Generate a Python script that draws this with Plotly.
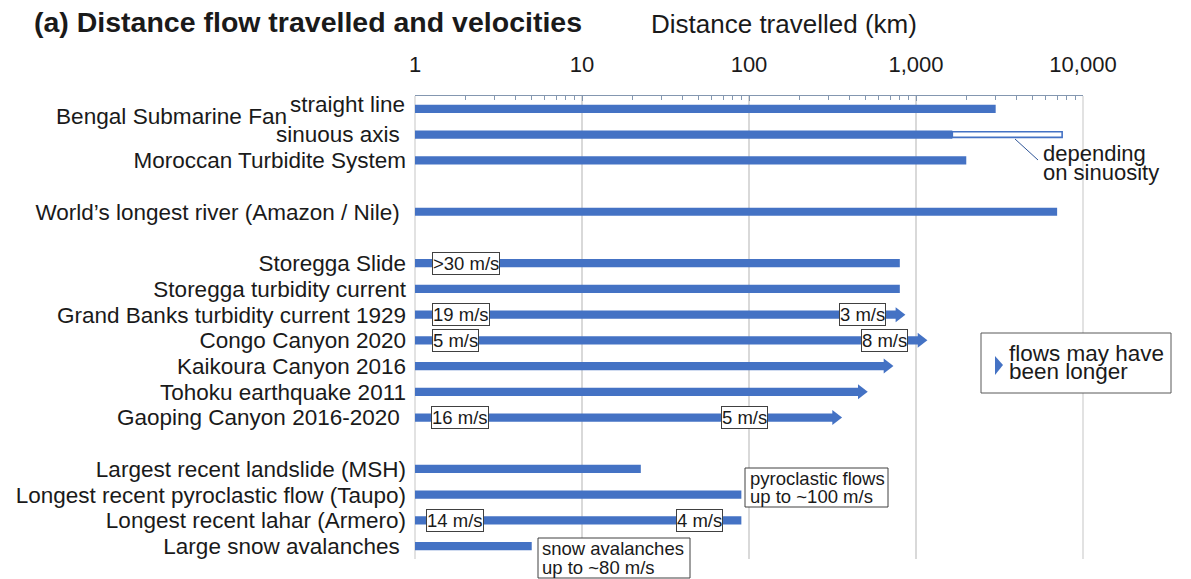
import numpy as np
import plotly.graph_objects as go

FONT = "Arial, 'Liberation Sans', Helvetica, sans-serif"
BLUE = "#4472C4"
AXIS = "#8497B0"
GRID = "#D9D9D9"
INK = "#1A1A1A"

W, H = 1191, 579
ML, MR, MT, MB = 415, 108, 96, 20

# ---- data -------------------------------------------------------------
row_labels = [
    "",  # "straight line" is drawn separately, slightly raised
    "sinuous axis\u00a0",
    "Moroccan Turbidite System",
    "World’s longest river (Amazon / Nile)\u00a0",
    "Storegga Slide",
    "Storegga turbidity current",
    "Grand Banks turbidity current 1929",
    "Congo Canyon 2020",
    "Kaikoura Canyon 2016",
    "Tohoku earthquake 2011",
    "Gaoping Canyon 2016-2020\u00a0",
    "Largest recent landslide (MSH)",
    "Longest recent pyroclastic flow (Taupo)",
    "Longest recent lahar (Armero)",
    "Large snow avalanches\u00a0",
]
row_pos = [0, 1, 2, 4, 6, 7, 8, 9, 10, 11, 12, 14, 15, 16, 17]
distance_km = [3000, 1650, 2000, 7000, 800, 800, 790, 1070, 670, 470, 330,
               22.5, 90, 90, 5]
may_be_longer = [False, False, False, False, False, False,
                 True, True, True, True, True,
                 False, False, False, False]

# Bengal Fan along its sinuous axis: range depending on sinuosity
sinuous_row = 1
sinuous_min_km = 1650
sinuous_max_km = 7500

# velocity tags: text, row, position (km), anchor side
vel_text = [">30 m/s", "19 m/s", "3 m/s", "5 m/s", "8 m/s",
            "16 m/s", "5 m/s", "14 m/s", "4 m/s"]
vel_row = [6, 8, 8, 9, 9, 12, 12, 16, 16]
vel_km = [1.27, 1.26, 660, 1.27, 895, 1.25, 130, 1.16, 70]
vel_side = ["left", "left", "right", "left", "right",
            "left", "right", "left", "right"]

tick_vals = [1, 10, 100, 1000, 10000]
tick_text = ["1", "10", "100", "1,000", "10,000"]


def px(x):
    return (x - ML) / (W - ML - MR)


def py(y):
    return 1 - (y - MT) / (H - MT - MB)


fig = go.Figure()

# main bars, all starting at 1 km
fig.add_trace(go.Bar(
    orientation="h",
    y=row_pos,
    base=[1] * len(distance_km),
    x=[d - 1 for d in distance_km],
    width=0.32,
    marker=dict(color=BLUE, line=dict(width=0)),
    showlegend=False,
    hoverinfo="skip",
))

# open bar: extra length along the sinuous axis
fig.add_trace(go.Bar(
    orientation="h",
    y=[sinuous_row],
    base=[sinuous_min_km],
    x=[sinuous_max_km - sinuous_min_km],
    width=0.22,
    marker=dict(color="white", line=dict(color=BLUE, width=1.6)),
    showlegend=False,
    hoverinfo="skip",
))

# arrow heads for flows that may have run further
arrow_x = [d for d, m in zip(distance_km, may_be_longer) if m]
arrow_y = [r for r, m in zip(row_pos, may_be_longer) if m]
fig.add_trace(go.Scatter(
    x=arrow_x, y=arrow_y, mode="markers",
    marker=dict(symbol="triangle-right", size=13, color=BLUE,
                line=dict(width=0)),
    showlegend=False, hoverinfo="skip",
))

annotations = []

# velocity tags on the bars
for t, r, k, s in zip(vel_text, vel_row, vel_km, vel_side):
    annotations.append(dict(
        x=np.log10(k), y=r, xref="x", yref="y", text=t, showarrow=False,
        xanchor=s, yanchor="middle",
        font=dict(family=FONT, size=18.5, color=INK),
        bgcolor="white", bordercolor="#404040", borderwidth=1, borderpad=0,
    ))

# title and axis title
annotations.append(dict(
    x=px(32), y=py(22), xref="paper", yref="paper", xanchor="left",
    yanchor="middle", showarrow=False,
    text="<b>(a) Distance flow travelled and velocities</b>",
    font=dict(family=FONT, size=28.5, color=INK),
))
annotations.append(dict(
    x=px(784), y=py(24), xref="paper", yref="paper", xanchor="center",
    yanchor="middle", showarrow=False, text="Distance travelled (km)",
    font=dict(family=FONT, size=26, color=INK),
))
annotations.append(dict(
    x=px(289), y=py(116), xref="paper", yref="paper", xanchor="right",
    yanchor="middle", showarrow=False, text="Bengal Submarine Fan",
    font=dict(family=FONT, size=22.6, color=INK),
))
annotations.append(dict(
    x=px(407), y=py(104), xref="paper", yref="paper", xanchor="right",
    yanchor="middle", showarrow=False, text="straight line",
    font=dict(family=FONT, size=22.5, color=INK),
))


def text_line(txt, x, y, size):
    return dict(x=px(x), y=py(y), xref="paper", yref="paper",
                xanchor="left", yanchor="middle", showarrow=False,
                text=txt, font=dict(family=FONT, size=size, color=INK))


# sinuosity note
annotations.append(text_line("depending", 1041, 154, 22))
annotations.append(text_line("on sinuosity", 1041, 172, 22))

# legend box text
annotations.append(text_line("flows may have", 1007, 353, 22.5))
annotations.append(text_line("been longer", 1007, 371, 22.5))

# explanatory boxes
annotations.append(text_line("pyroclastic flows", 748, 478, 18.5))
annotations.append(text_line("up to ~100 m/s", 748, 496, 18.5))
annotations.append(text_line("snow avalanches", 540, 548, 18.5))
annotations.append(text_line("up to ~80 m/s", 540, 567, 18.5))

shapes = [
    # grid lines on the range edges (1 km and 10,000 km)
    dict(type="line", xref="paper", yref="paper", x0=0, x1=0, y0=0, y1=1,
         line=dict(color=GRID, width=1.5), layer="below"),
    dict(type="line", xref="paper", yref="paper", x0=1, x1=1, y0=0, y1=1,
         line=dict(color=GRID, width=1.5), layer="below"),
    # leader line to the open bar
    dict(type="line", xref="paper", yref="paper",
         x0=px(1015), y0=py(139), x1=px(1038), y1=py(160),
         line=dict(color="#2F5597", width=1)),
    # legend frame and symbol
    dict(type="rect", xref="paper", yref="paper",
         x0=px(981), y0=py(333), x1=px(1171), y1=py(393),
         line=dict(color="#595959", width=1), fillcolor="white", layer="below"),
    dict(type="path", xref="paper", yref="paper",
         path=f"M {px(995)} {py(356)} L {px(1003)} {py(365)} L {px(995)} {py(375)} Z",
         fillcolor=BLUE, line=dict(width=0)),
    # frames of the explanatory boxes
    dict(type="rect", xref="paper", yref="paper",
         x0=px(745), y0=py(468), x1=px(888), y1=py(507),
         line=dict(color="#404040", width=1), fillcolor="white"),
    dict(type="rect", xref="paper", yref="paper",
         x0=px(538), y0=py(538), x1=px(690), y1=py(578),
         line=dict(color="#404040", width=1), fillcolor="white"),
]

fig.update_layout(
    width=W, height=H,
    margin=dict(l=ML, r=MR, t=MT, b=MB, pad=0),
    paper_bgcolor="white", plot_bgcolor="white",
    font=dict(family=FONT, color=INK),
    barmode="overlay",
    annotations=annotations,
    shapes=shapes,
    xaxis=dict(
        type="log", range=[0, 4], side="top",
        tickvals=tick_vals, ticktext=tick_text,
        tickfont=dict(family=FONT, size=22, color=INK),
        ticks="inside", ticklen=5, tickwidth=1, tickcolor=AXIS,
        minor=dict(ticks="inside", ticklen=4, tickwidth=1, tickcolor=AXIS,
                   dtick="D1", showgrid=False),
        showline=True, linecolor=AXIS, linewidth=1,
        showgrid=True, gridcolor=GRID, gridwidth=1.5,
        zeroline=False, ticklabelstandoff=14,
    ),
    yaxis=dict(
        range=[17.5, -0.5], tickvals=row_pos, ticktext=row_labels,
        tickfont=dict(family=FONT, size=22.5, color=INK),
        ticks="", showgrid=False, zeroline=False, showline=False,
        ticklabelstandoff=8,
    ),
)

fig.write_html("out.html")
